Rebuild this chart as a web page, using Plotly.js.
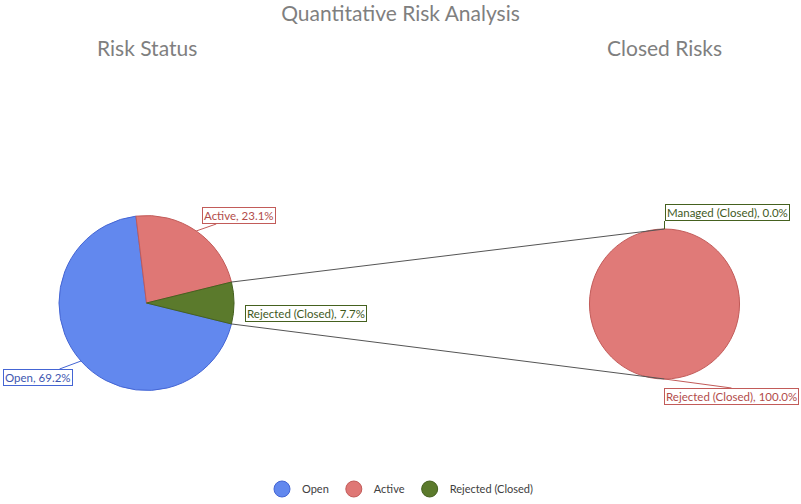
<!DOCTYPE html>
<html>
<head>
<meta charset="utf-8">
<script src="https://cdn.plot.ly/plotly-3.0.1.min.js"></script>
<style>
  html, body { margin: 0; padding: 0; background: #fff; }
  #chart { width: 801px; height: 504px; }
</style>
</head>
<body>
<div id="chart"></div>
<script>
// Risk Status (main pie)
const statusLabels = ['Open', 'Active', 'Rejected (Closed)'];
const statusCounts = [9, 3, 1];

// Closed Risks (secondary pie, split of the last slice)
const closedLabels = ['Managed (Closed)', 'Rejected (Closed)'];
const closedCounts = [0, 1];

// styling
const statusColors = ['#6288ee', '#df7775', '#5b7a2c'];
const statusLines = ['#4465d4', '#c25b59', '#45611f'];
const statusText = ['#3d56b0', '#b24c4a', '#3f5a1d'];
const closedColors = ['#5b7a2c', '#e07a78'];
const closedLines = ['#45611f', '#c25b59'];
const closedText = ['#3f5a1d', '#b24c4a'];

const W = 801, H = 504;
const P1 = { cx: 146.5, cy: 303, r: 87.5 };
const P2 = { cx: 664.5, cy: 304, r: 75 };
const FONT = 'Lato, "Open Sans", sans-serif';

const total = a => a.reduce((s, v) => s + v, 0);
const domainOf = p => ({
  x: [(p.cx - p.r) / W, (p.cx + p.r) / W],
  y: [1 - (p.cy + p.r) / H, 1 - (p.cy - p.r) / H]
});
const toPaper = pt => ({ x: pt.x / W, y: 1 - pt.y / H });
// angle measured clockwise from 12 o'clock, like plotly's pie rotation
const rim = (p, deg) => ({
  x: p.cx + p.r * Math.sin(deg * Math.PI / 180),
  y: p.cy - p.r * Math.cos(deg * Math.PI / 180)
});
function midAngles(vals, rot) {
  const k = 360 / total(vals);
  let cum = 0;
  return vals.map(v => { const a = rot + (cum + v / 2) * k; cum += v; return a; });
}

// last slice of the main pie is centred at 3 o'clock
const n1 = total(statusCounts);
const last = statusCounts[statusCounts.length - 1];
const rot1 = 90 - (n1 - last / 2) / n1 * 360;
const rot2 = 0;

const mid1 = midAngles(statusCounts, rot1);
const mid2 = midAngles(closedCounts, rot2);

const traces = [
  {
    type: 'pie', labels: statusLabels, values: statusCounts,
    sort: false, direction: 'clockwise', rotation: rot1,
    domain: domainOf(P1), textinfo: 'none', hoverinfo: 'label+percent',
    marker: { colors: statusColors, line: { color: statusLines, width: 1 } },
    showlegend: false
  },
  {
    type: 'pie', labels: closedLabels, values: closedCounts,
    sort: false, direction: 'clockwise', rotation: rot2,
    domain: domainOf(P2), textinfo: 'none', hoverinfo: 'label+percent',
    marker: { colors: closedColors, line: { color: closedLines, width: 1 } },
    showlegend: false
  }
];

// legend entries with round symbols
statusLabels.forEach((name, i) => {
  traces.push({
    type: 'scatter', mode: 'markers', x: [null], y: [null], name: name,
    marker: { size: 22, color: statusColors[i], line: { color: statusLines[i], width: 1 } },
    hoverinfo: 'skip'
  });
});

const pct = (v, t) => (v / t * 100).toFixed(1) + '%';

// label placement (pixel offsets from slice rim)
const off1 = [
  { ax: -43, ay: 16, xa: 'center', ya: 'middle' },
  { ax: 43, ay: -15, xa: 'center', ya: 'middle' },
  { ax: 11, ay: 10, xa: 'left', ya: 'middle', noArrow: true }
];
const off2 = [
  { ax: 0, ay: -8, xa: 'left', ya: 'bottom' },
  { ax: 67, ay: 9, xa: 'center', ya: 'top' }
];

function sliceLabel(p, deg, text, color, border, o) {
  const pt = toPaper(rim(p, deg));
  const a = {
    xref: 'paper', yref: 'paper', x: pt.x, y: pt.y, text: text,
    xanchor: o.xa, yanchor: o.ya,
    font: { family: FONT, size: 11.5, color: color },
    bgcolor: '#ffffff', bordercolor: border, borderwidth: 1, borderpad: 1
  };
  if (o.noArrow) {
    a.showarrow = false; a.xshift = o.ax; a.yshift = -o.ay;
  } else {
    a.showarrow = true; a.arrowhead = 0; a.arrowwidth = 1; a.arrowcolor = border;
    a.ax = o.ax; a.ay = o.ay; a.standoff = 0;
  }
  return a;
}

const annotations = [];
statusLabels.forEach((l, i) => annotations.push(
  sliceLabel(P1, mid1[i], l + ', ' + pct(statusCounts[i], n1), statusText[i], statusLines[i], off1[i])));
const n2 = total(closedCounts);
closedLabels.forEach((l, i) => annotations.push(
  sliceLabel(P2, mid2[i], l + ', ' + pct(closedCounts[i], n2), closedText[i], closedLines[i], off2[i])));

// pie titles
[['Risk Status', P1], ['Closed Risks', P2]].forEach(([t, p]) => {
  annotations.push({
    xref: 'paper', yref: 'paper', x: p.cx / W, y: 1 - 47 / H, text: t, showarrow: false,
    xanchor: 'center', yanchor: 'middle',
    font: { family: FONT, size: 21, color: '#7f7f7f' }
  });
});

// connector lines between the split slice and the second pie
const k1 = 360 / n1;
const edgeTop = rim(P1, rot1 + (n1 - last) * k1);
const edgeBot = rim(P1, rot1 + n1 * k1);
const p2Top = { x: P2.cx, y: P2.cy - P2.r };
const p2Bot = { x: P2.cx, y: P2.cy + P2.r };
const shapes = [[edgeTop, p2Top], [edgeBot, p2Bot]].map(([a, b]) => {
  const A = toPaper(a), B = toPaper(b);
  return {
    type: 'line', xref: 'paper', yref: 'paper',
    x0: A.x, y0: A.y, x1: B.x, y1: B.y,
    line: { color: '#555555', width: 1 }
  };
});

const layout = {
  width: W, height: H,
  margin: { l: 0, r: 0, t: 0, b: 0 },
  paper_bgcolor: '#ffffff', plot_bgcolor: '#ffffff',
  title: {
    text: 'Quantitative Risk Analysis',
    font: { family: FONT, size: 21, color: '#7f7f7f' },
    x: 0.5, xanchor: 'center', y: 1 - 14 / H, yanchor: 'middle'
  },
  xaxis: { visible: false }, yaxis: { visible: false },
  showlegend: true,
  legend: {
    orientation: 'h', x: 0.5, xanchor: 'center', y: 1 - 489 / H, yanchor: 'middle',
    itemwidth: 30,
    font: { family: FONT, size: 11, color: '#404040' }
  },
  annotations: annotations,
  shapes: shapes
};

Plotly.newPlot('chart', traces, layout, { displayModeBar: false, staticPlot: true });
</script>
</body>
</html>
